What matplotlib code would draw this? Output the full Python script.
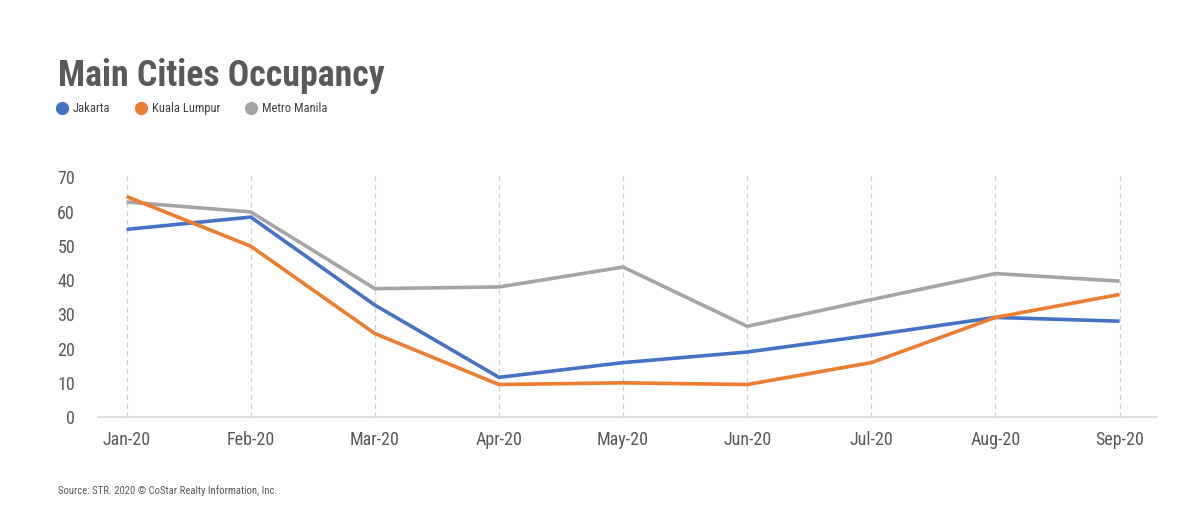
import matplotlib
matplotlib.use("Agg")
import matplotlib.pyplot as plt
from matplotlib.lines import Line2D
from matplotlib import font_manager as fm

months = ["Jan-20", "Feb-20", "Mar-20", "Apr-20", "May-20", "Jun-20", "Jul-20", "Aug-20", "Sep-20"]
jakarta = [54.8, 58.4, 32.7, 11.6, 15.9, 19.0, 23.9, 29.1, 28.0]
kuala_lumpur = [64.4, 49.9, 24.4, 9.5, 10.0, 9.5, 15.9, 29.1, 35.8]
metro_manila = [62.8, 59.9, 37.5, 38.0, 43.8, 26.5, 34.3, 41.9, 39.7]
series_names = ["Jakarta", "Kuala Lumpur", "Metro Manila"]
yticks = [0, 10, 20, 30, 40, 50, 60, 70]

names = {f.name for f in fm.fontManager.ttflist}
prefs = ["Roboto Condensed", "Fira Sans Condensed", "Archivo Narrow", "PT Sans Narrow",
         "IBM Plex Sans Condensed", "Encode Sans Condensed", "Liberation Sans Narrow"]
fam = next((p for p in prefs if p in names), None)
stretch = "normal"
if fam is None:
    fam = "Open Sans"
    stretch = "condensed"
plt.rcParams["font.family"] = [fam, "DejaVu Sans"]
plt.rcParams["font.stretch"] = stretch

colors = ["#4472C4", "#ED7D31", "#A5A5A5"]
text_col = "#595959"

fig = plt.figure(figsize=(12, 5.08), dpi=100)
ax = fig.add_axes([0.0817, 0.179, 0.8823, 0.482])

x = list(range(len(months)))
for vals, c in zip([metro_manila, jakarta, kuala_lumpur], [colors[2], colors[0], colors[1]]):
    ax.plot(x, vals, color=c, lw=2.6, solid_capstyle="butt", zorder=3)

ax.set_xlim(-0.23, 8.3)
ax.set_ylim(0, 71.5)
ax.set_yticks(yticks)
ax.set_xticks(x)
ax.set_xticklabels(months)
for xi in x:
    ax.axvline(xi, color="#D0D0D0", lw=0.9, ls=(0, (4, 3)), zorder=1)

for s in ["top", "right", "left"]:
    ax.spines[s].set_visible(False)
ax.spines["bottom"].set_color("#D9D9D9")
ax.spines["bottom"].set_linewidth(1.2)
ax.tick_params(axis="both", length=0, labelsize=13, colors=text_col)
ax.tick_params(axis="x", pad=10)
ax.tick_params(axis="y", pad=16.5)

title = fig.text(58 / 1200, 1 - 86 / 508, "Main Cities Occupancy", fontsize=30, color=text_col,
                 fontweight="bold", ha="left", va="baseline")

leg_x = [62, 141, 251]
for lx, name, c in zip(leg_x, series_names, colors):
    fig.add_artist(Line2D([lx / 1200], [1 - 108 / 508], marker="o", markersize=8.5,
                          color=c, transform=fig.transFigure, ls="none"))
    fig.text((lx + 11) / 1200, 1 - 108 / 508, name, fontsize=9, color="#404040",
             ha="left", va="center")

src = fig.text(58 / 1200, 1 - 491 / 508, "Source: STR. 2020 \u00a9 CoStar Realty Information, Inc.",
               fontsize=7, color=text_col, ha="left", va="center")

# fit title / source widths to reference
fig.canvas.draw()
w = title.get_window_extent().width
if w > 0:
    title.set_fontsize(30 * 327 / w)
w = src.get_window_extent().width
if w > 0:
    src.set_fontsize(7 * 219 / w)

fig.savefig("out.png", dpi=100, facecolor="white")
